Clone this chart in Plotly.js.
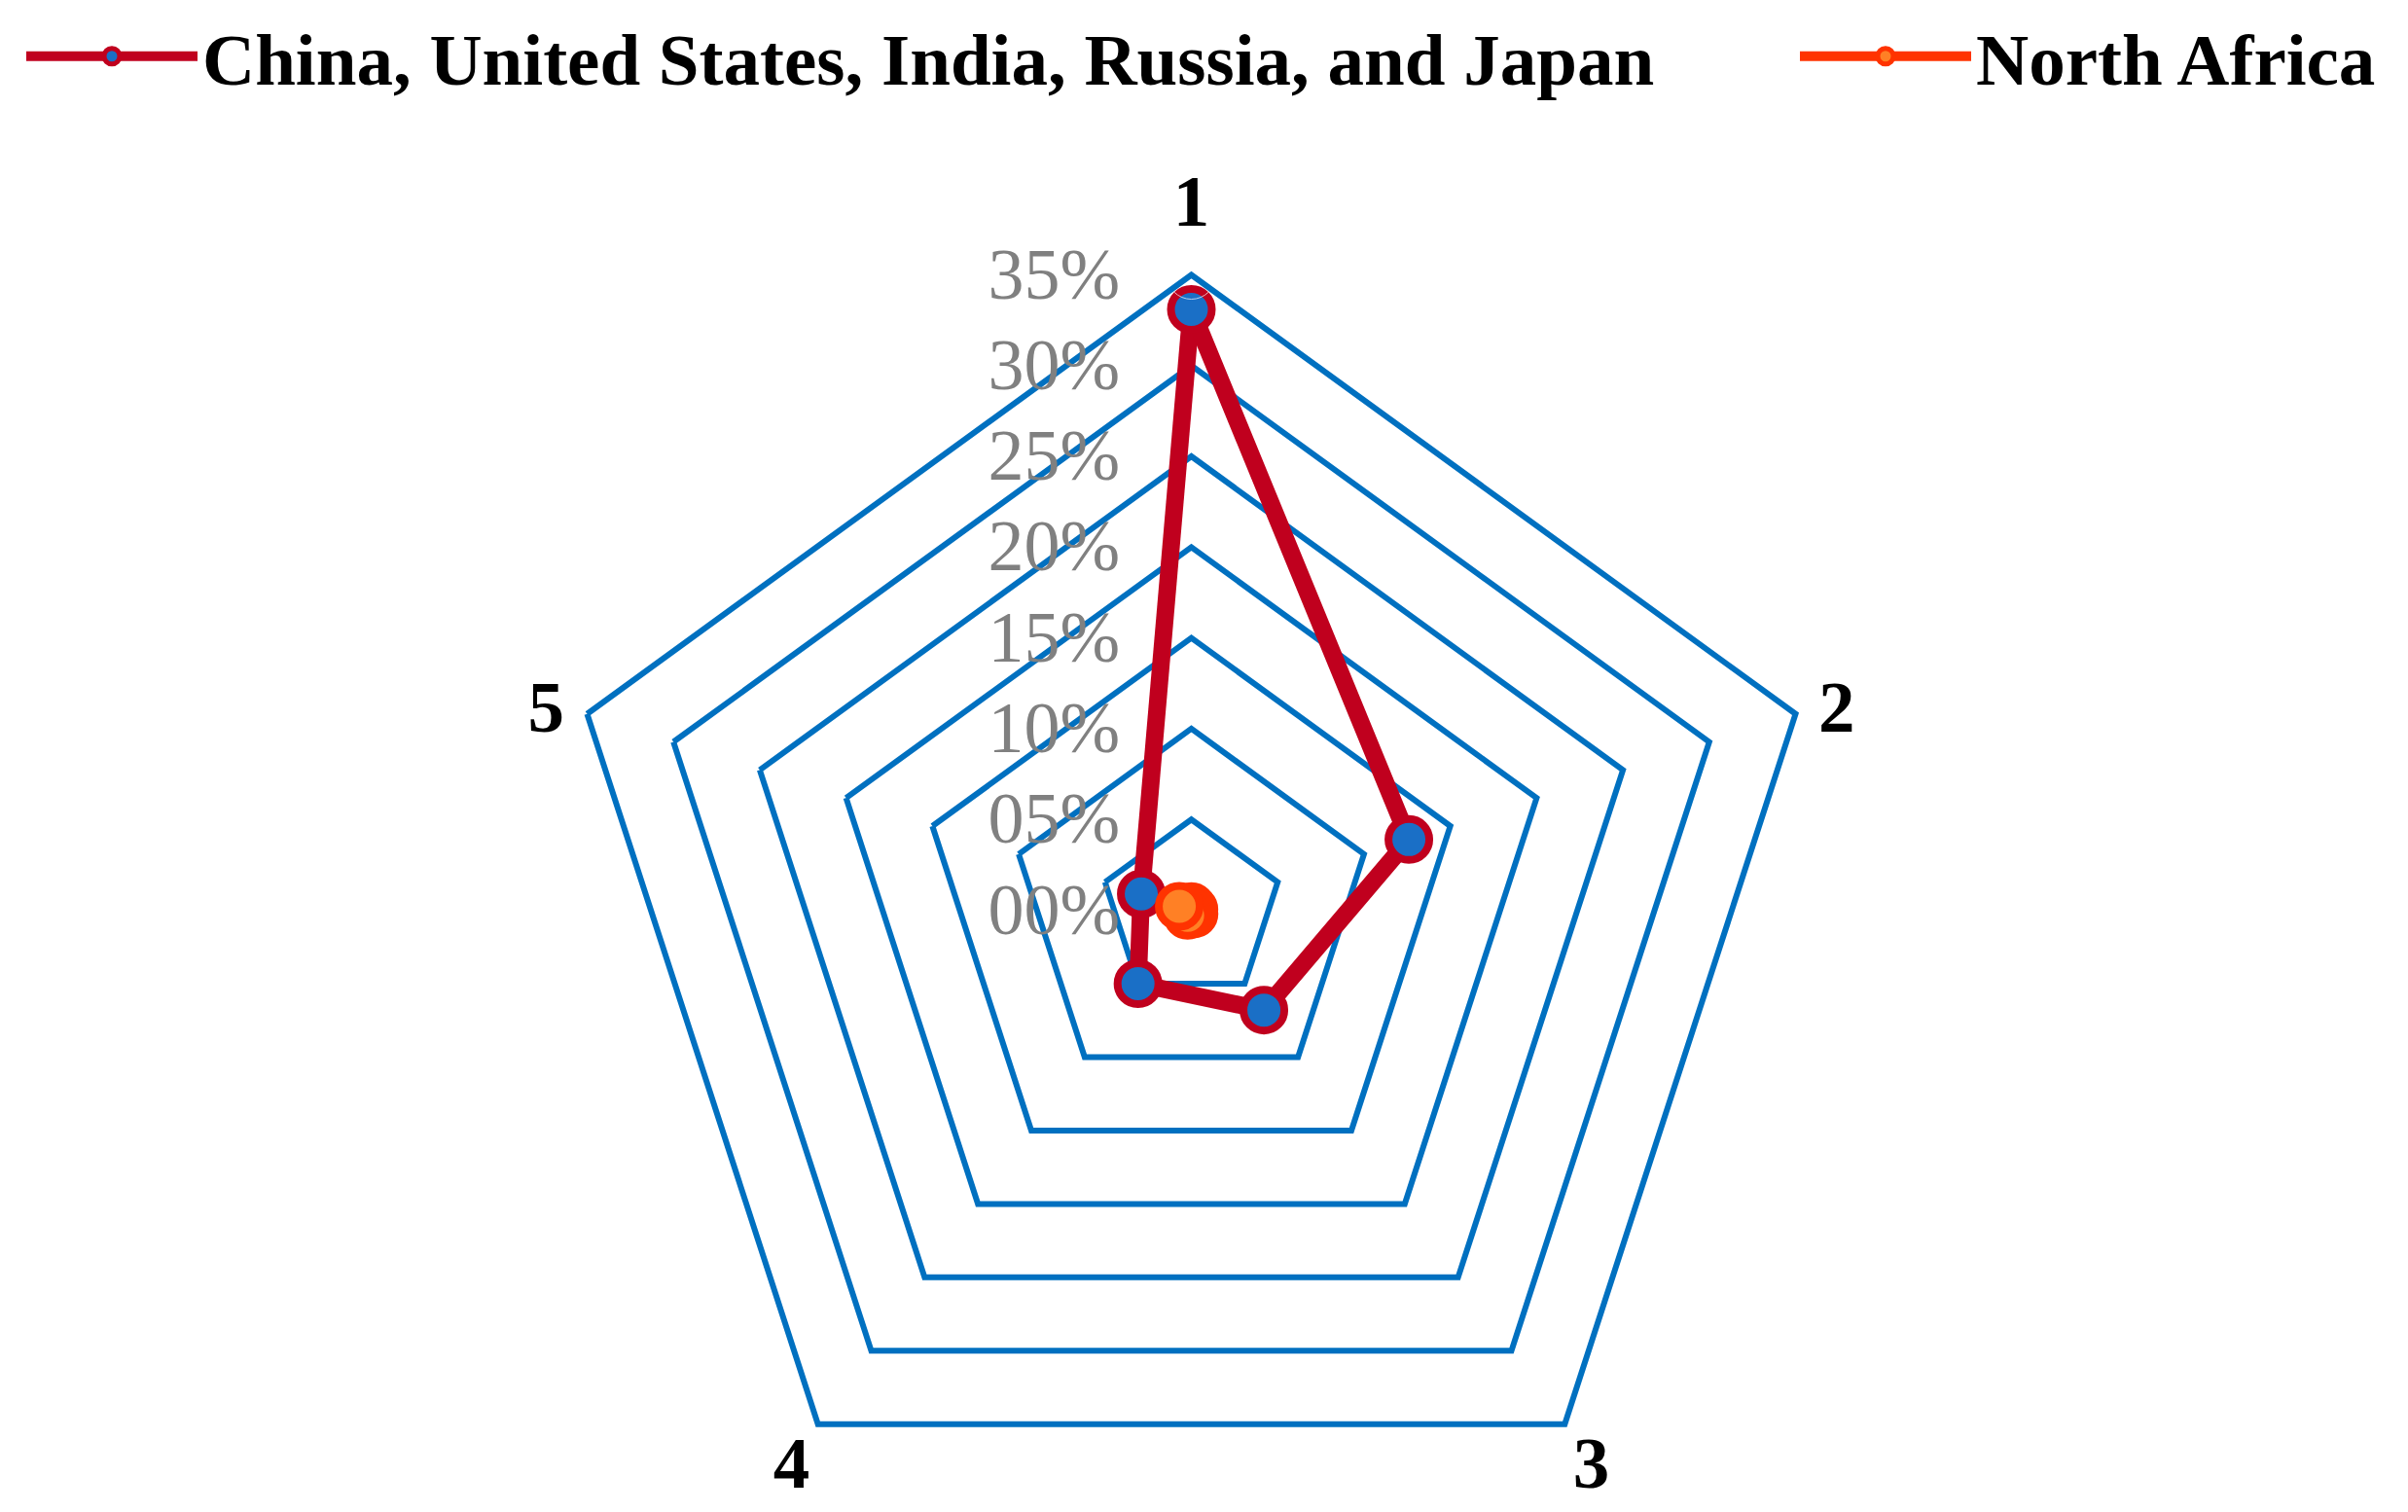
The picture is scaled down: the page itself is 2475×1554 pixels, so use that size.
<!DOCTYPE html>
<html><head><meta charset="utf-8">
<script src="https://cdn.plot.ly/plotly-3.0.1.min.js"></script>
<style>
html,body{margin:0;padding:0;overflow:hidden;background:#fff}
#wrap{width:2475px;height:1554px;overflow:hidden;position:relative}
#chart{width:2475px;height:1600px}
</style>
</head><body><div id="wrap"><div id="chart"></div></div>
<script>
// ---- data ----
const categories = ['1', '2', '3', '4', '5'];
const seriesNames = ['China, United States, India, Russia, and Japan', 'North Africa'];
const bigFive = [33.1, 12.6, 6.8, 5.0, 2.9];          // percent
const northAfrica = [0.2, 0.15, 0.25, 0.35, 0.7];     // percent
const radialTickVals = [0, 5, 10, 15, 20, 25, 30, 35];
const radialTickText = ['00%', '05%', '10%', '15%', '20%', '25%', '30%', '35%'];

// ---- styling ----
const serif = 'Liberation Serif, Times New Roman, serif';
const gridBlue = '#0070C0';
const rMax = 35;
const H = 1600;

function seriesTraces(name, vals, lineColor, fillColor, legendId) {
  const n = vals.length;
  return [
    { // closing segment (last -> first)
      type: 'scatterpolar', mode: 'lines',
      r: [vals[n - 1], vals[0]], theta: [categories[n - 1], categories[0]],
      line: { color: lineColor, width: 18 },
      showlegend: false, hoverinfo: 'skip', cliponaxis: false
    },
    {
      type: 'scatterpolar', mode: 'lines+markers', name: name,
      r: vals, theta: categories,
      line: { color: lineColor, width: 18 },
      marker: { size: 42, color: fillColor, line: { color: lineColor, width: 8 } },
      legend: legendId, cliponaxis: false
    }
  ];
}

// label placement around the outer ring (style only)
const labelPositions = ['top center', 'middle right', 'bottom right', 'bottom left', 'middle left'];
const labelGap = [50, 36, 12, 12, 36];

const traces = [
  ...seriesTraces(seriesNames[0], bigFive, '#C0001E', '#1A6FC6', 'legend'),
  ...seriesTraces(seriesNames[1], northAfrica, '#FF3300', '#FF8025', 'legend2'),
  {
    type: 'scatterpolar', mode: 'markers+text',
    r: categories.map(() => rMax), theta: categories, text: categories,
    textposition: labelPositions,
    textfont: { family: serif, size: 75, color: '#000', weight: 'bold' },
    marker: { size: labelGap, color: 'rgba(0,0,0,0)' },
    showlegend: false, hoverinfo: 'skip', cliponaxis: false
  }
];

const legendFont = { family: serif, size: 75, color: '#000', weight: 'bold' };
const layout = {
  width: 2475, height: H,
  margin: { l: 0, r: 0, t: 0, b: 0, pad: 0, autoexpand: false },
  paper_bgcolor: '#fff',
  showlegend: true,
  legend: {
    x: 22 / 2475, xanchor: 'left', y: (H - 58) / H, yanchor: 'middle',
    orientation: 'h', font: legendFont, itemwidth: 176, bgcolor: 'rgba(0,0,0,0)', borderwidth: 0
  },
  legend2: {
    x: 1845 / 2475, xanchor: 'left', y: (H - 58) / H, yanchor: 'middle',
    orientation: 'h', font: legendFont, itemwidth: 176, bgcolor: 'rgba(0,0,0,0)', borderwidth: 0
  },
  polar: {
    domain: { x: [(1224.5 - 653) / 2475, (1224.5 + 653) / 2475], y: [(H - 1588.5) / H, (H - 282.5) / H] },
    gridshape: 'linear',
    bgcolor: 'rgba(0,0,0,0)',
    angularaxis: {
      type: 'category', categoryarray: categories, direction: 'clockwise', rotation: 90,
      showgrid: false, showline: true, linecolor: gridBlue, linewidth: 6,
      ticks: '', showticklabels: false
    },
    radialaxis: {
      range: [0, rMax], tickmode: 'array', tickvals: radialTickVals, ticktext: radialTickText,
      angle: 90, side: 'counterclockwise', tickangle: 90,
      showline: false, gridcolor: gridBlue, gridwidth: 6,
      ticks: 'outside', ticklen: 47, tickcolor: 'rgba(0,0,0,0)',
      tickfont: { family: serif, size: 74, color: '#808080' }
    }
  }
};

Plotly.newPlot('chart', traces, layout, { displayModeBar: false, staticPlot: true });
</script>
</body></html>
